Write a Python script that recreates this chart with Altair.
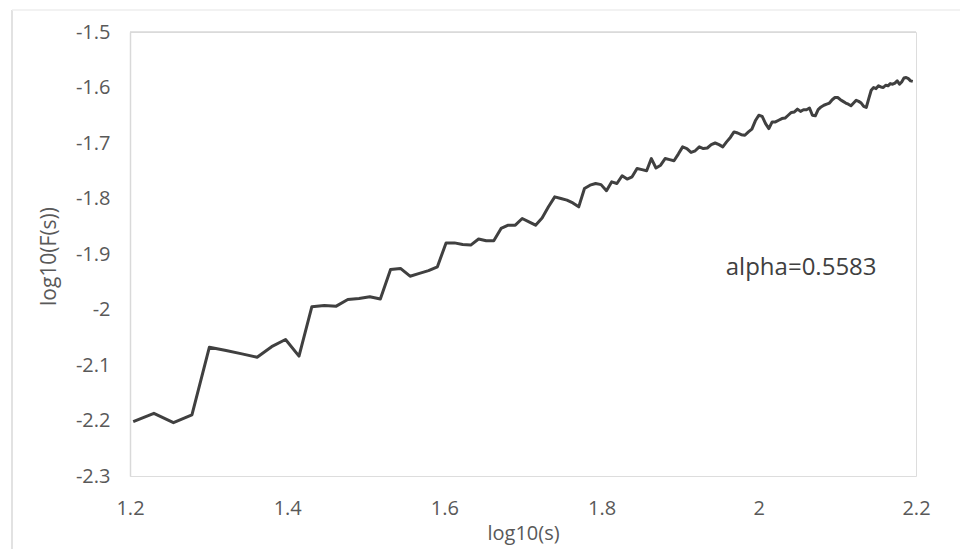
import altair as alt
import pandas as pd

# log10(s) values along the curve
log_s = [
    1.2041, 1.2304, 1.2553, 1.2788, 1.3010, 1.3222, 1.3424, 1.3617, 1.3802, 1.3979,
    1.4150, 1.4314, 1.4472, 1.4624, 1.4771, 1.4914, 1.5051, 1.5185, 1.5315, 1.5441,
    1.5563, 1.5682, 1.5798, 1.5911, 1.6021, 1.6128, 1.6232, 1.6335, 1.6435, 1.6532,
    1.6628, 1.6721, 1.6812, 1.6902, 1.6990, 1.7076, 1.7160, 1.7243, 1.7324, 1.7404,
    1.7482, 1.7559, 1.7634, 1.7709, 1.7782, 1.7853, 1.7924, 1.7993, 1.8062, 1.8129,
    1.8195, 1.8261, 1.8325, 1.8388, 1.8451, 1.8513, 1.8573, 1.8633, 1.8692, 1.8751,
    1.8808, 1.8865, 1.8921, 1.8976, 1.9031, 1.9085, 1.9138, 1.9191, 1.9243, 1.9294,
    1.9345, 1.9395, 1.9445, 1.9494, 1.9542, 1.9590, 1.9638, 1.9685, 1.9731, 1.9777,
    1.9823, 1.9868, 1.9912, 1.9956, 2.0000, 2.0043, 2.0086, 2.0128, 2.0170, 2.0212,
    2.0253, 2.0294, 2.0334, 2.0374, 2.0414, 2.0453, 2.0492, 2.0531, 2.0569, 2.0607,
    2.0645, 2.0682, 2.0719, 2.0755, 2.0792, 2.0828, 2.0864, 2.0899, 2.0934, 2.0969,
    2.1004, 2.1038, 2.1072, 2.1106, 2.1139, 2.1173, 2.1206, 2.1239, 2.1271, 2.1303,
    2.1335, 2.1367, 2.1399, 2.1430, 2.1461, 2.1492, 2.1523, 2.1553, 2.1584, 2.1614,
    2.1644, 2.1673, 2.1703, 2.1732, 2.1761, 2.1790, 2.1818, 2.1847, 2.1875, 2.1903,
    2.1931, 2.1959,
]

# log10(F(s)) values
log_F = [
    -2.202, -2.187, -2.204, -2.190, -2.068, -2.074, -2.080, -2.086, -2.067, -2.054,
    -2.084, -1.995, -1.993, -1.994, -1.982, -1.980, -1.977, -1.981, -1.928, -1.926,
    -1.940, -1.935, -1.930, -1.923, -1.880, -1.880, -1.883, -1.884, -1.873, -1.876,
    -1.876, -1.854, -1.848, -1.848, -1.836, -1.842, -1.848, -1.835, -1.815, -1.797,
    -1.800, -1.803, -1.808, -1.815, -1.782, -1.776, -1.773, -1.775, -1.786, -1.770,
    -1.773, -1.759, -1.765, -1.761, -1.746, -1.748, -1.750, -1.728, -1.745, -1.740,
    -1.728, -1.730, -1.732, -1.720, -1.707, -1.710, -1.717, -1.714, -1.707, -1.710,
    -1.709, -1.703, -1.700, -1.703, -1.707, -1.698, -1.690, -1.680, -1.682, -1.685,
    -1.686, -1.680, -1.675, -1.660, -1.650, -1.652, -1.665, -1.674, -1.662, -1.662,
    -1.659, -1.656, -1.655, -1.650, -1.645, -1.644, -1.639, -1.643, -1.640, -1.640,
    -1.637, -1.650, -1.651, -1.640, -1.635, -1.632, -1.630, -1.628, -1.622, -1.618,
    -1.618, -1.622, -1.625, -1.628, -1.630, -1.633, -1.628, -1.623, -1.625, -1.628,
    -1.634, -1.636, -1.620, -1.605, -1.600, -1.602, -1.597, -1.599, -1.600, -1.596,
    -1.597, -1.593, -1.594, -1.592, -1.588, -1.594, -1.590, -1.583, -1.582, -1.584,
    -1.588, -1.589,
]

x_ticks = [1.2, 1.4, 1.6, 1.8, 2.0, 2.2]
y_ticks = [-1.5, -1.6, -1.7, -1.8, -1.9, -2.0, -2.1, -2.2, -2.3]

annotation_text = ["alpha=0.5583"]
annotation_x = [1.958]
annotation_y = [-1.925]

FONT = "Open Sans"
LABEL_COLOR = "#595959"
GRID_COLOR = "#d9d9d9"

df = pd.DataFrame({"x": log_s, "y": log_F})
ann = pd.DataFrame({"x": annotation_x, "y": annotation_y, "t": annotation_text})

label_expr = "datum.value < 0 ? '-' + format(-datum.value, '~g') : format(datum.value, '~g')"

x_enc = alt.X(
    "x:Q",
    scale=alt.Scale(domain=[1.2, 2.2], nice=False, zero=False),
    axis=alt.Axis(
        values=x_ticks, labelExpr=label_expr, title="log10(s)",
        grid=False, ticks=False, domain=False, labelFlush=False, labelOverlap=False,
        labelFont=FONT, labelFontSize=20, labelColor=LABEL_COLOR, labelPadding=22,
        titleFont=FONT, titleFontSize=20, titleColor=LABEL_COLOR, titleFontWeight="normal",
        titleX=393, titleY=57, titleBaseline="middle", titleAlign="center",
    ),
)
y_enc = alt.Y(
    "y:Q",
    scale=alt.Scale(domain=[-2.3, -1.5], nice=False, zero=False),
    axis=alt.Axis(
        values=y_ticks, labelExpr=label_expr, title="log10(F(s))",
        grid=False, ticks=False, domain=True, domainColor=GRID_COLOR, domainWidth=1.5,
        labelFlush=False, labelOverlap=False,
        labelFont=FONT, labelFontSize=20, labelColor=LABEL_COLOR, labelPadding=20,
        titleFont=FONT, titleFontSize=21, titleColor=LABEL_COLOR, titleFontWeight="normal",
        titleX=-81, titleY=224, titleBaseline="middle", titleAlign="center", titleAngle=-90,
    ),
)

line = alt.Chart(df).mark_line(color="#404040", strokeWidth=3, strokeJoin="round").encode(
    x=x_enc, y=y_enc
)

top_rule = alt.Chart(pd.DataFrame({"y": [-1.5]})).mark_rule(
    color=GRID_COLOR, strokeWidth=1.5
).encode(y=alt.Y("y:Q"))

border_left = alt.Chart(pd.DataFrame({"a": [0]})).mark_rule(color=GRID_COLOR, strokeWidth=1.5).encode(
    x=alt.value(-118), y=alt.value(-22), y2=alt.value(560)
)
border_top = alt.Chart(pd.DataFrame({"a": [0]})).mark_rule(color="#eeeeee", strokeWidth=1.5).encode(
    x=alt.value(-118), x2=alt.value(840), y=alt.value(-22)
)

text = alt.Chart(ann).mark_text(
    font=FONT, fontSize=24, color="#404040", align="left", baseline="middle"
).encode(x="x:Q", y="y:Q", text="t:N")

chart = alt.layer(border_left, border_top, top_rule, line, text).properties(
    width=786, height=444,
    autosize=alt.AutoSizeParams(type="none"),
    padding={"left": 122, "top": 24, "right": 44, "bottom": 73},
).configure_view(stroke=None).configure(background="white")

chart.save("out.html", embed_options={"renderer": "svg", "actions": False})
